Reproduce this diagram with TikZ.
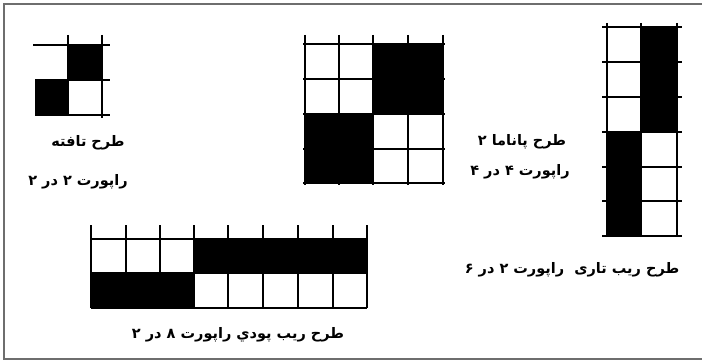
\documentclass[tikz,border=0pt]{standalone}
\usepackage{fontspec}
\TeXXeTstate=1
\newfontfamily\arabicfont[Script=Arabic]{DejaVu Sans}
\tikzset{
  gridline/.style={line width=1.8pt, black},
  blackcell/.style={fill=black},
  framebar/.style={line width=2pt, draw={rgb,255:red,110;green,110;blue,110}},
  label/.style={font=\arabicfont\bfseries\fontsize{14.5}{17}\selectfont, inner sep=0pt}
}
\begin{document}
\begin{tikzpicture}[x=1pt,y=-1pt]
\useasboundingbox (0,0) rectangle (702,361);
\fill[white] (0,0) rectangle (702,361);
% frame
\draw[framebar] (702,4) -- (4,4) -- (4,359) -- (702,359);

% ---- Taffeta 2x2
\fill[blackcell] (68,45) rectangle (102,80);
\fill[blackcell] (35,80) rectangle (68,115);
\draw[gridline] (33,45) -- (110,45);
\draw[gridline] (35,80) -- (110,80);
\draw[gridline] (35,115) -- (110,115);
\draw[gridline] (68,35) -- (68,115);
\draw[gridline] (102,35) -- (102,118);

% ---- Panama 4x4
\fill[blackcell] (373,44) rectangle (443,114);
\fill[blackcell] (305,114) rectangle (373,183);
\foreach \x in {305,339,373,408,443} \draw[gridline] (\x,35) -- (\x,185);
\foreach \y in {44,79,114,149,183} \draw[gridline] (303,\y) -- (445,\y);

% ---- Warp rib 2x6
\fill[blackcell] (641,27) rectangle (677,132);
\fill[blackcell] (607,132) rectangle (641,236);
\foreach \x in {607,641,677} \draw[gridline] (\x,23) -- (\x,237);
\foreach \y in {27,62,97,132,167,201,236} \draw[gridline] (602,\y) -- (682,\y);

% ---- Weft rib 8x2
\fill[blackcell] (194,239) rectangle (367,273);
\fill[blackcell] (91,273) rectangle (194,308);
\foreach \x in {91,126,160,194,228,263,298,333,367} \draw[gridline] (\x,225) -- (\x,308);
\foreach \y in {239,273,308} \draw[gridline] (91,\y) -- (367,\y);

% ---- labels
\node[label] (t1) at (88,143) {\beginR طرح تافته\endR};
\node[label] (t2) at (78,182) {\beginR راپورت ۲ در ۲\endR};
\node[label] (p1) at (522,142) {\beginR طرح پاناما ۲\endR};
\node[label] (p2) at (520,172) {\beginR راپورت ۴ در ۴\endR};
\node[label] (r1) at (572,270) {\beginR طرح ریب تاری\ \ راپورت ۲ در ۶\endR};
\node[label] (w1) at (238,335) {\beginR طرح ریب پودي راپورت ۸ در ۲\endR};
\end{tikzpicture}
\end{document}
